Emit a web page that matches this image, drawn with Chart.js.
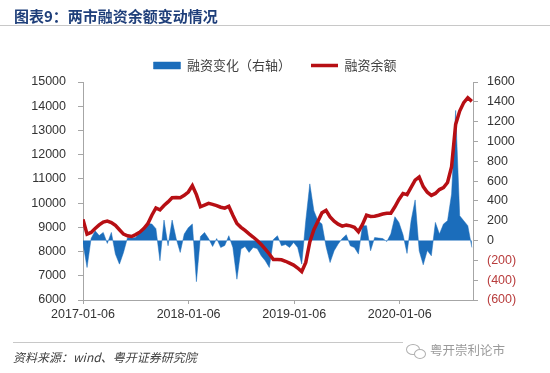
<!DOCTYPE html>
<html>
<head>
<meta charset="utf-8">
<script src="https://cdn.jsdelivr.net/npm/chart.js@4.4.1/dist/chart.umd.min.js"></script>
<style>
body { margin: 0; background: #fff; }
#wrap { position: relative; width: 550px; height: 373px; overflow: hidden; font-family: "Noto Sans CJK SC", sans-serif; }
#title { position: absolute; left: 14px; top: 5px; font-size: 15px; font-weight: bold; color: #1f3f7a; white-space: nowrap; }
#tline { position: absolute; left: 0; top: 25px; width: 550px; height: 1px; background: #c8c8c8; }
#fline { position: absolute; left: 13px; top: 342px; width: 390px; height: 1px; background: #c8c8c8; }
#source { position: absolute; left: 13px; top: 348px; font-size: 12px; font-style: italic; color: #404040; white-space: nowrap; }
#mark { position: absolute; left: 430px; top: 340px; font-size: 12.5px; color: #9a9a9a; white-space: nowrap; }
#icon1 { position: absolute; left: 406px; top: 344px; width: 12px; height: 9px; border: 1px solid #b0b0b0; border-radius: 50%; }
#icon2 { position: absolute; left: 414px; top: 349px; width: 10px; height: 8px; border: 1px solid #b0b0b0; border-radius: 50%; background: #fff; }
canvas { position: absolute; left: 0; top: 0; }
</style>
</head>
<body>
<div id="wrap">
  <canvas id="mycanvas" width="550" height="373"></canvas>
  <div id="title">图表9：两市融资余额变动情况</div>
  <div id="tline"></div>
  <div id="fline"></div>
  <div id="source">资料来源：wind、粤开证券研究院</div>
  <div id="icon1"></div><div id="icon2"></div>
  <div id="mark">粤开崇利论市</div>
</div>
<script>
// one point every two weeks, starting 2017-01-06
var stepDays = 14;
var xTickDays = [0, 365, 730, 1095];
var xTickLabels = ['2017-01-06', '2018-01-06', '2019-01-06', '2020-01-06'];

// 融资余额 (left axis)
var balance = [9330, 8720, 8790, 8950, 9100, 9220, 9260, 9200, 9080, 8900,
    8720, 8650, 8620, 8700, 8800, 8950, 9150, 9500, 9800, 9720,
    9900, 10050, 10220, 10230, 10220, 10320, 10460, 10720, 10350, 9850,
    9920, 9990, 9950, 9900, 9830, 9790, 9870, 9500, 9160, 9000,
    8870, 8730, 8600, 8460, 8290, 8100, 7900, 7670, 7670, 7660,
    7600, 7520, 7440, 7320, 7170, 7550, 8400, 8900, 9250, 9600,
    9700, 9430, 9250, 9130, 9050, 9090, 9060, 9000, 8820, 9120,
    9500, 9450, 9460, 9500, 9550, 9580, 9580, 9850, 10150, 10400,
    10350, 10650, 10950, 11080, 10680, 10450, 10320, 10400, 10560, 10640,
    10850, 11500, 13250, 13800, 14150, 14350, 14200];

// 融资变化 (right axis)
var change = [-30, -272, 20, 99, 50, 82, -29, 82, -137, -238,
    -120, 31, 25, 31, 82, 120, 173, 167, 120, -204,
    207, -53, 207, 20, -120, 66, 130, 167, -415, 40,
    82, 20, -60, 20, -70, -50, 49, -70, -390, -86,
    -60, -120, -70, -80, -154, -204, -272, 10, 49, -53,
    -40, -70, -19, -70, -238, 200, 572, 301, 200, 167,
    -60, -222, -103, -35, 20, 59, -53, -70, -137, 150,
    150, -103, 30, 25, 20, -10, 66, 240, 183, 60,
    -130, 200, 410, -103, -245, -100, -154, 183, 66, 167,
    200, 470, 1313, 250, 200, 150, -70];

var blue = '#1b6dbb';
var red = '#b70f14';
var tickFont = { family: 'Liberation Sans', size: 12.5 };

var balancePts = [];
var changePts = [];
for (var i = 0; i < balance.length; i++) {
    balancePts.push({ x: i * stepDays, y: balance[i] });
    changePts.push({ x: i * stepDays, y: change[i] });
}

var ctx = document.getElementById('mycanvas');
var chart = new Chart(ctx, {
    type: 'line',
    data: {
        datasets: [{
            label: '融资变化（右轴）',
            data: changePts,
            yAxisID: 'y1',
            borderColor: blue,
            backgroundColor: blue,
            borderWidth: 0.5,
            fill: 'origin',
            pointRadius: 0,
            pointStyle: 'rect',
            tension: 0,
            order: 1
        }, {
            label: '融资余额',
            data: balancePts,
            yAxisID: 'y',
            borderColor: red,
            backgroundColor: red,
            borderWidth: 3.5,
            fill: false,
            pointRadius: 0,
            pointStyle: 'line',
            tension: 0,
            order: 0
        }]
    },
    options: {
        responsive: false,
        animation: false,
        layout: { padding: { top: 24.5, left: 0, right: 0, bottom: 43 } },
        plugins: {
            tooltip: { enabled: false },
            legend: {
                position: 'top',
                labels: {
                    usePointStyle: true,
                    pointStyleWidth: 27,
                    boxWidth: 27,
                    boxHeight: 7,
                    padding: 20,
                    color: '#404040',
                    font: { family: 'Noto Sans CJK SC', size: 13 },
                    sort: function (a, b) { return a.datasetIndex - b.datasetIndex; }
                }
            }
        },
        scales: {
            x: {
                type: 'linear',
                min: 0,
                max: 1348,
                afterBuildTicks: function (s) {
                    s.ticks = xTickDays.map(function (v) { return { value: v }; });
                },
                afterFit: function (s) { s.height = 30; },
                grid: { drawOnChartArea: false, drawTicks: true, tickLength: 4, color: '#a6a6a6' },
                border: { color: '#a6a6a6' },
                ticks: {
                    autoSkip: false,
                    maxRotation: 0,
                    padding: 3,
                    color: '#333',
                    font: tickFont,
                    callback: function (v, i) { return xTickLabels[i]; }
                }
            },
            y: {
                position: 'left',
                min: 6000,
                max: 15000,
                afterFit: function (s) { s.width = 83; s.paddingTop = 82; },
                grid: { drawOnChartArea: false, drawTicks: true, tickLength: 5, color: '#a6a6a6' },
                border: { color: '#a6a6a6' },
                ticks: {
                    stepSize: 1000,
                    padding: 12,
                    color: '#333',
                    font: tickFont,
                    callback: function (v) { return String(v); }
                }
            },
            y1: {
                position: 'right',
                min: -600,
                max: 1600,
                afterFit: function (s) { s.width = 77; },
                grid: { drawOnChartArea: false, drawTicks: true, tickLength: 5, color: '#a6a6a6' },
                border: { color: '#a6a6a6' },
                ticks: {
                    stepSize: 200,
                    padding: 9,
                    font: tickFont,
                    color: function (c) { return c.tick.value < 0 ? '#b83c3c' : '#333'; },
                    callback: function (v) { return v < 0 ? '(' + (-v) + ')' : String(v); }
                }
            }
        }
    }
});
</script>
</body>
</html>
